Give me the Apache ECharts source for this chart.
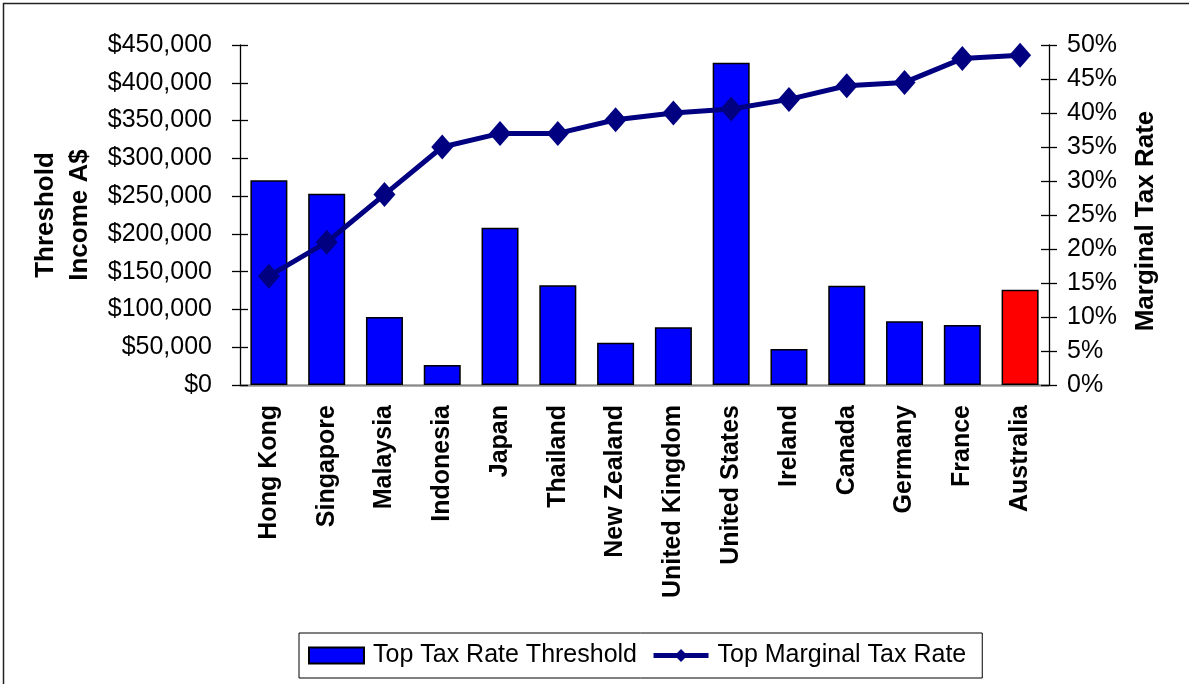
<!DOCTYPE html>
<html>
<head>
<meta charset="utf-8">
<script src="https://cdn.jsdelivr.net/npm/echarts@6/dist/echarts.min.js"></script>
<style>
html,body{margin:0;padding:0;background:#fff;}
#chart{width:1189px;height:684px;}
</style>
</head>
<body>
<div id="chart"></div>
<script>
const categories = ['Hong Kong','Singapore','Malaysia','Indonesia','Japan','Thailand','New Zealand','United Kingdom','United States','Ireland','Canada','Germany','France','Australia'];
const thresholds = [271000, 253000, 90000, 26500, 208000, 132000, 56000, 76500, 426500, 47500, 131500, 84500, 79500, 126000];
const rates = [16, 21, 28, 35, 37, 37, 39, 40, 40.6, 42, 44, 44.5, 48, 48.5];
const highlight = 'Australia';

const FONT = "'Liberation Sans', Arial, sans-serif";
const chart = echarts.init(document.getElementById('chart'), null, {renderer: 'canvas'});

function money(v){ return '$' + v.toString().replace(/\B(?=(\d{3})+(?!\d))/g, ','); }

const option = {
  animation: false,
  backgroundColor: '#fff',
  textStyle: {fontFamily: FONT},
  graphic: [{
    type: 'rect', shape: {x: 3.5, y: 3.5, width: 1400, height: 900},
    style: {fill: 'none', stroke: '#222', lineWidth: 1.5}, silent: true
  }],
  grid: {left: 240, right: 140, top: 45, bottom: 299, containLabel: false},
  legend: {
    left: 299, top: 633,
    padding: [10, 16, 10, 9],
    borderColor: '#000', borderWidth: 1,
    itemWidth: 55, itemHeight: 16, itemGap: 14,
    textStyle: {fontFamily: FONT, fontSize: 25, color: '#000', padding: [0, 0, 0, 4]},
    data: [
      {name: 'Top Tax Rate Threshold', icon: 'rect'},
      {name: 'Top Marginal Tax Rate', lineStyle: {width: 5, color: '#000080'}}
    ]
  },
  xAxis: [{
    type: 'category', data: categories, position: 'bottom',
    axisLine: {show: true, lineStyle: {color: '#000', width: 1.3}},
    axisTick: {show: false},
    axisLabel: {rotate: 90, margin: 20, fontFamily: FONT, fontSize: 25, fontWeight: 'bold', color: '#000', interval: 0}
  }, {
    type: 'category', data: categories, position: 'top',
    axisLine: {show: true, lineStyle: {color: '#888', width: 1.3}},
    axisTick: {show: false}, axisLabel: {show: false}
  }],
  yAxis: [{
    type: 'value', position: 'left', min: 0, max: 450000, interval: 50000,
    name: 'Threshold\nIncome A$', nameLocation: 'middle', nameGap: 143, nameRotate: 90,
    nameTextStyle: {fontFamily: FONT, fontSize: 26, fontWeight: 'bold', color: '#000', lineHeight: 34},
    axisLine: {show: true, lineStyle: {color: '#000', width: 1.3}},
    axisTick: {show: true, inside: false, length: 8, lineStyle: {color: '#000', width: 1.3}},
    axisLabel: {margin: 28, fontFamily: FONT, fontSize: 25, color: '#000', formatter: money},
    splitLine: {show: false}
  }, {
    type: 'value', position: 'right', min: 0, max: 50, interval: 5,
    name: 'Marginal Tax Rate', nameLocation: 'middle', nameGap: 82, nameRotate: 90,
    nameTextStyle: {fontFamily: FONT, fontSize: 26, fontWeight: 'bold', color: '#000', lineHeight: 30, padding: [0, 12, 0, 0]},
    axisLine: {show: true, lineStyle: {color: '#000', width: 1.3}},
    axisTick: {show: true, inside: false, length: 8, lineStyle: {color: '#000', width: 1.3}},
    axisLabel: {margin: 18, fontFamily: FONT, fontSize: 25, color: '#000', formatter: '{value}%'},
    splitLine: {show: false}
  }, {
    type: 'value', position: 'left', min: 0, max: 450000, interval: 50000,
    axisLine: {show: false}, axisLabel: {show: false}, splitLine: {show: false},
    axisTick: {show: true, inside: true, length: 8, lineStyle: {color: '#000', width: 1.3}}
  }, {
    type: 'value', position: 'right', min: 0, max: 50, interval: 5,
    axisLine: {show: false}, axisLabel: {show: false}, splitLine: {show: false},
    axisTick: {show: true, inside: true, length: 8, lineStyle: {color: '#000', width: 1.3}}
  }],
  series: [{
    name: 'Top Tax Rate Threshold', type: 'bar', xAxisIndex: 0, yAxisIndex: 0,
    barWidth: 37,
    itemStyle: {color: '#0000FF', borderColor: '#000', borderWidth: 1.5},
    data: thresholds.map((v, i) => categories[i] === highlight
      ? {value: v, itemStyle: {color: '#FF0000'}} : v),
    z: 2
  }, {
    name: 'Top Marginal Tax Rate', type: 'line', xAxisIndex: 0, yAxisIndex: 1,
    data: rates,
    symbol: 'diamond', symbolSize: [22, 25], showAllSymbol: true,
    lineStyle: {color: '#000080', width: 5},
    itemStyle: {color: '#000080'},
    z: 3
  }]
};
chart.setOption(option);
</script>
</body>
</html>
